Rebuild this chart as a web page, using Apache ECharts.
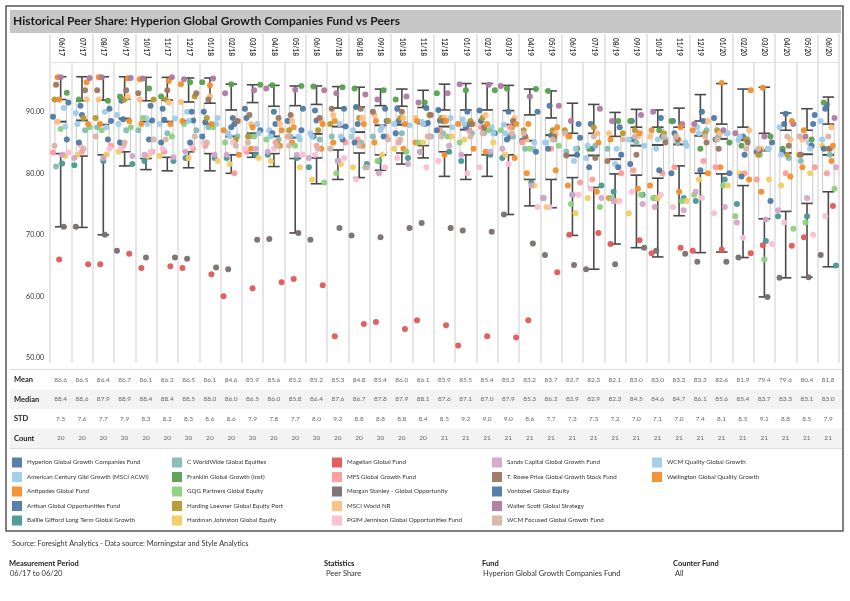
<!DOCTYPE html>
<html><head><meta charset="utf-8">
<script src="https://cdn.jsdelivr.net/npm/echarts@6/dist/echarts.min.js"></script>
<style>html,body{margin:0;padding:0;background:#fff}#c{width:850px;height:601px}</style>
</head><body><div id="c"></div>
<script>
const months = ['06/17','07/17','08/17','09/17','10/17','11/17','12/17','01/18','02/18','03/18','04/18','05/18','06/18','07/18','08/18','09/18','10/18','11/18','12/18','01/19','02/19','03/19','04/19','05/19','06/19','07/19','08/19','09/19','10/19','11/19','12/19','01/20','02/20','03/20','04/20','05/20','06/20'];
const statNames = ['Mean','Median','STD','Count'];
const meanRow = [86.6,86.5,86.4,86.7,86.1,86.2,86.5,86.1,84.6,85.9,85.6,85.2,85.2,85.3,84.8,85.4,86.0,86.1,85.9,85.5,85.4,85.3,83.2,83.7,82.7,82.3,82.1,83.0,83.0,83.3,83.3,82.6,81.9,79.4,79.6,80.4,81.8];
const medianRow = [88.4,88.6,87.9,88.9,88.4,88.4,88.5,88.0,86.0,86.5,86.0,85.8,86.4,87.6,86.7,87.8,87.9,88.1,87.6,87.1,87.0,87.9,85.3,86.2,82.9,82.9,82.3,84.5,84.6,84.7,86.1,85.6,85.4,83.7,83.3,83.1,83.0];
const stdRow = [7.5,7.6,7.7,7.9,8.3,8.2,8.3,8.6,8.6,7.9,7.8,7.7,8.0,9.2,8.8,8.8,8.8,8.4,8.5,9.2,9.0,9.0,8.6,7.7,7.3,7.3,7.2,7.0,7.1,7.0,7.4,8.1,8.5,9.1,8.8,8.5,7.9];
const countRow = [20,20,20,20,20,20,20,20,20,20,20,20,20,20,20,20,20,20,21,21,21,21,21,21,21,21,21,21,21,21,21,21,21,21,21,21,21];

const whiskerHigh = [95.7,95.7,95.7,95.7,95.6,95.6,95.5,95.5,94.5,94.4,94.3,94.2,94.2,94.1,94.0,93.7,93.7,93.5,94.5,94.6,94.6,94.3,93.7,93.4,91.4,91.2,89.9,90.4,90.3,90.6,92.8,94.6,93.7,94.0,89.8,90.5,92.4];
const boxQ3 = [92.0,91.8,91.9,92.1,91.8,91.9,91.6,91.4,90.3,91.5,90.9,91.0,91.2,90.6,90.8,91.0,90.9,90.7,90.3,90.3,90.3,90.2,89.5,89.0,86.5,86.5,86.0,87.5,87.5,87.5,88.5,88.0,87.5,86.5,87.0,87.0,88.0];
const boxQ1 = [83.2,82.8,83.0,83.5,82.4,82.6,83.5,83.2,83.0,83.3,83.2,82.4,82.5,83.8,83.3,83.0,83.3,84.5,83.5,83.0,83.0,83.0,79.0,79.0,79.3,77.7,79.9,79.7,79.2,81.2,80.0,79.9,78.0,72.6,73.8,75.1,77.0];
const whiskerLow = [71.3,71.2,70.0,81.2,80.6,80.4,80.9,80.4,80.0,82.6,81.1,70.3,78.3,79.0,79.3,80.5,81.5,82.5,79.5,79.0,79.5,73.3,74.7,74.4,69.9,64.4,68.5,67.9,66.4,73.1,67.1,67.2,66.3,59.9,63.0,63.1,64.8];

const hyperion = [89.2,89.5,88.5,88.8,88.6,88.7,88.6,88.3,88.0,89.0,88.0,88.5,88.6,87.6,88.0,88.5,88.5,88.2,88.6,88.0,88.5,86.0,85.3,86.2,85.8,84.0,83.0,85.5,86.0,86.5,88.5,85.5,83.0,83.5,89.7,89.5,91.2];
const americanCentury = [90.6,89.8,90.0,89.5,89.0,88.9,90.0,88.0,86.5,88.0,87.0,86.0,86.5,88.0,86.0,87.0,87.8,88.4,89.0,88.8,87.5,87.9,84.0,85.0,82.0,82.5,81.5,84.5,84.0,85.0,87.5,86.5,85.4,84.0,87.5,85.0,88.5];
const antipodes = [95.6,94.8,95.6,95.4,95.3,95.0,94.5,94.3,83.0,84.0,84.5,85.0,84.0,85.0,84.5,85.0,84.0,85.0,83.0,84.0,83.5,82.5,80.0,80.5,78.0,77.0,76.0,77.5,78.0,77.0,80.0,81.0,79.0,77.0,79.5,81.0,82.0];
const artisan = [91.5,91.0,90.5,91.8,91.0,90.5,90.0,90.0,89.0,90.5,90.0,90.5,90.2,90.5,90.8,90.5,90.5,90.6,90.3,90.0,90.2,90.0,90.0,91.0,88.0,88.0,87.5,88.5,89.0,88.5,90.0,89.0,86.0,85.0,88.0,88.0,90.5];
const baillieGifford = [81.6,81.3,82.0,81.5,82.0,82.0,82.5,82.5,82.5,83.0,83.0,82.5,81.0,82.0,81.5,82.0,82.5,83.5,83.5,82.0,83.0,82.5,78.5,76.0,76.5,78.0,77.0,76.5,76.0,76.0,75.5,79.0,75.0,69.0,73.0,73.0,65.0];
const cWorldWide = [81.1,87.0,87.5,87.0,87.0,86.5,87.0,87.5,86.0,86.0,85.5,86.0,85.5,86.0,85.0,86.0,86.5,86.0,86.5,86.5,86.5,86.0,84.0,85.5,83.5,84.5,84.0,85.0,85.5,85.0,87.0,86.0,85.5,83.0,82.5,82.0,83.0];
const franklin = [93.1,92.0,91.8,92.5,93.8,92.5,94.8,94.8,94.5,94.4,94.3,94.2,94.1,94.0,93.8,93.5,92.0,91.5,93.0,93.5,93.5,93.8,93.7,93.4,84.0,84.0,88.5,88.5,87.0,88.5,84.0,85.0,84.5,86.0,84.0,85.5,91.5];
const gqg = [87.2,87.5,87.0,87.5,89.0,86.0,88.0,87.5,85.0,86.0,85.5,84.5,78.5,80.0,81.0,82.0,83.5,85.0,86.0,85.0,87.0,87.0,84.0,84.5,75.0,74.5,76.0,76.5,76.0,75.5,76.5,78.0,73.0,66.0,71.0,72.0,77.5];
const hardingLoevner = [92.0,89.0,89.0,92.0,92.0,92.0,92.5,89.0,85.5,86.0,85.0,87.0,87.0,88.0,89.0,88.5,89.0,89.5,89.0,88.5,89.0,87.5,87.0,87.0,87.0,87.5,86.5,87.0,86.5,86.0,86.5,87.0,85.5,83.0,83.0,83.0,84.0];
const hardmanJohnston = [82.8,83.0,83.0,83.5,82.8,82.8,82.5,82.0,81.5,82.5,82.0,81.0,79.0,81.5,81.0,83.0,84.0,85.0,86.0,85.5,85.0,83.0,78.0,74.5,73.5,76.0,75.5,73.5,76.0,75.5,79.0,78.0,80.0,79.0,78.0,80.0,84.5];
const magellan = [66.0,65.2,65.2,66.9,64.6,64.9,64.6,63.6,60.0,61.3,62.3,62.8,61.8,53.5,55.5,55.8,54.7,56.1,55.3,52.0,53.5,53.3,56.1,63.9,70.0,70.3,68.5,69.1,67.0,67.9,67.4,67.6,67.0,68.3,68.2,69.6,74.7];
const mfs = [83.4,83.5,84.5,84.5,83.5,83.5,84.0,84.5,80.0,83.5,85.0,86.0,84.5,85.0,85.5,86.0,85.0,86.0,87.0,87.0,87.5,87.5,85.0,84.0,78.5,79.0,80.0,80.5,80.0,81.0,82.0,81.0,80.0,79.0,80.0,81.0,80.0];
const morganStanley = [71.3,71.3,70.0,67.4,66.3,66.3,66.1,64.7,64.4,69.2,69.3,70.3,69.2,71.1,69.9,69.6,71.1,71.9,71.1,70.7,70.5,73.3,68.6,66.7,65.1,64.4,65.2,67.9,67.4,66.9,65.6,65.6,66.3,59.9,63.0,63.1,66.7];
const msciWorld = [88.4,92.0,92.0,92.5,92.0,91.5,91.6,92.5,88.5,88.0,88.0,88.5,88.5,89.5,89.0,89.5,89.0,89.0,89.0,88.0,89.5,89.0,85.5,86.5,86.0,86.5,86.5,86.0,86.0,85.5,88.5,86.5,87.0,84.0,85.5,85.5,87.5];
const pgim = [83.4,84.5,84.0,84.0,83.5,84.0,84.5,85.0,85.0,84.0,84.0,83.0,83.0,82.5,79.0,81.0,82.5,81.0,82.0,80.0,81.0,81.5,74.5,74.5,76.5,77.5,75.5,77.0,76.5,74.5,76.0,73.5,69.5,68.5,72.0,70.0,73.0];
const sands = [83.0,82.5,82.5,82.8,83.0,82.6,83.5,83.0,83.0,84.0,83.5,83.0,82.5,82.0,81.0,80.0,81.5,83.5,84.5,83.0,83.5,84.0,78.0,76.0,76.5,76.0,75.5,75.0,74.5,74.0,77.0,74.5,72.0,72.5,74.0,76.0,81.0];
const tRowe = [94.4,93.5,93.5,93.5,93.0,93.5,93.0,92.0,88.5,89.5,89.0,89.5,89.0,90.5,90.5,90.0,90.0,89.5,88.5,88.0,87.5,88.5,86.0,86.0,82.9,82.5,82.0,83.0,85.0,85.5,85.0,84.0,85.0,83.7,84.5,83.0,84.0];
const vontobel = [85.5,85.0,85.5,85.0,85.5,85.0,85.0,86.0,87.5,87.0,86.5,87.0,86.0,85.5,85.0,86.0,86.5,88.0,87.0,87.5,86.5,85.5,83.5,84.0,83.0,81.0,81.0,81.5,80.5,80.0,80.5,80.0,79.5,75.5,83.5,84.5,84.0];
const walterScott = [95.6,95.5,95.6,95.5,95.4,95.6,95.3,95.4,93.0,93.5,93.8,93.6,93.5,93.0,92.8,92.0,92.5,91.5,93.0,94.5,94.4,94.2,92.5,91.0,88.5,90.5,88.5,89.5,90.0,88.0,88.0,87.0,86.5,86.0,88.0,86.0,89.0];
const wcmFocused = [84.5,84.0,86.0,85.0,85.5,85.5,86.0,85.0,84.5,85.0,84.5,84.5,84.0,84.0,84.5,85.5,85.5,86.0,86.0,86.0,86.5,86.5,86.5,85.5,86.5,86.0,85.5,86.0,86.0,86.0,86.0,85.5,84.0,84.0,86.0,86.0,86.0];
const wcmQuality = [87.6,88.0,87.5,88.0,88.0,88.0,88.5,89.0,86.0,86.5,86.0,85.5,86.0,86.0,87.0,87.5,88.0,88.0,87.5,88.0,86.5,86.5,85.0,85.0,84.0,84.5,84.0,85.5,85.5,84.5,86.5,86.5,86.0,84.0,83.0,84.0,85.5];
const wellington = [92.0,88.0,88.0,88.5,88.0,88.0,88.5,88.0,87.0,87.5,87.0,87.5,88.0,88.5,88.0,88.5,88.0,88.5,88.5,88.0,88.0,88.0,88.0,87.5,86.0,85.0,85.5,86.5,87.0,87.5,87.0,94.7,93.5,93.9,88.5,87.0,84.5];

const fundNames = ['Hyperion Global Growth Companies Fund','American Century Glbl Growth (MSCI ACWI)','Antipodes Global Fund','Artisan Global Opportunities Fund','Baillie Gifford Long Term Global Growth','C WorldWide Global Equities','Franklin Global Growth (Inst)','GQG Partners Global Equity','Harding Loevner Global Equity Port','Hardman Johnston Global Equity','Magellan Global Fund','MFS Global Growth Fund','Morgan Stanley - Global Opportunity','MSCI World NR','PGIM Jennison Global Opportunities Fund','Sands Capital Global Growth Fund','T. Rowe Price Global Growth Stock Fund','Vontobel Global Equity','Walter Scott Global Strategy','WCM Focused Global Growth Fund','WCM Quality Global Growth','Wellington Global Quality Growth'];
const fundValues = [hyperion,americanCentury,antipodes,artisan,baillieGifford,cWorldWide,franklin,gqg,hardingLoevner,hardmanJohnston,magellan,mfs,morganStanley,msciWorld,pgim,sands,tRowe,vontobel,walterScott,wcmFocused,wcmQuality,wellington];
const fundColors = ['#4e79a7','#a0cbe8','#f28e2b','#4e79a7','#499894','#86bcb6','#59a14f','#8cd17d','#b6992d','#f1ce63','#e15759','#ff9d9a','#79706e','#ffbe7d','#fabfd2','#d4a6c8','#9d7660','#4e79a7','#b07aa1','#d7b5a6','#a0cbe8','#f28e2b'];

const FONT = "Lato, 'Open Sans', sans-serif";
const chart = echarts.init(document.getElementById('c'));

function jitter(s, i) { const k = (s * 7 + i * 5) % 11; return (k / 10 - 0.5) * 0.72; }

const series = [];
series.push({
  type: 'custom', name: 'box', xAxisIndex: 1, yAxisIndex: 0, z: 1, silent: true,
  data: months.map((m, i) => [i, whiskerLow[i], boxQ1[i], medianRow[i], boxQ3[i], whiskerHigh[i]]),
  renderItem: function (params, api) {
    const x = api.value(0);
    const pLow = api.coord([x, api.value(1)]);
    const pQ1 = api.coord([x, api.value(2)]);
    const pMed = api.coord([x, api.value(3)]);
    const pQ3 = api.coord([x, api.value(4)]);
    const pHigh = api.coord([x, api.value(5)]);
    const cw = api.size([1, 0])[0];
    const hw = cw * 0.27;
    const cx = pMed[0];
    const dark = { stroke: '#4a4a4a', lineWidth: 1.6 };
    return { type: 'group', children: [
      { type: 'rect', shape: { x: cx - hw, y: pQ3[1], width: hw * 2, height: pQ1[1] - pQ3[1] }, style: { fill: 'rgba(255,255,255,0.6)', stroke: '#c9c9c9', lineWidth: 1 } },
      { type: 'line', shape: { x1: cx, y1: pHigh[1], x2: cx, y2: pQ3[1] }, style: dark },
      { type: 'line', shape: { x1: cx, y1: pQ1[1], x2: cx, y2: pLow[1] }, style: dark },
      { type: 'line', shape: { x1: cx - hw, y1: pHigh[1], x2: cx + hw, y2: pHigh[1] }, style: dark },
      { type: 'line', shape: { x1: cx - hw, y1: pLow[1], x2: cx + hw, y2: pLow[1] }, style: dark },
      { type: 'line', shape: { x1: cx - hw, y1: pQ3[1], x2: cx + hw, y2: pQ3[1] }, style: dark },
      { type: 'line', shape: { x1: cx - hw, y1: pQ1[1], x2: cx + hw, y2: pQ1[1] }, style: dark },
      { type: 'line', shape: { x1: cx - hw, y1: pMed[1], x2: cx + hw, y2: pMed[1] }, style: { stroke: '#4a4a4a', lineWidth: 2 } }
    ]};
  }
});
fundNames.forEach((name, s) => {
  series.push({
    type: 'scatter', name: name, xAxisIndex: 1, yAxisIndex: 0, z: 3,
    symbolSize: 6, itemStyle: { color: fundColors[s], opacity: 0.95 },
    data: fundValues[s].map((v, i) => v == null ? null : [i + jitter(s, i), v])
  });
});
const tableRows = [meanRow, medianRow, stdRow, countRow];
const tableData = [];
tableRows.forEach((row, r) => row.forEach((v, i) => tableData.push([i, r, v])));
series.push({
  type: 'scatter', name: 'table', xAxisIndex: 3, yAxisIndex: 2, symbolSize: 1, silent: true,
  itemStyle: { color: 'transparent' },
  label: { show: true, position: 'inside', fontSize: 6.5, color: '#444', fontFamily: FONT,
    formatter: p => p.value[1] === 3 ? String(p.value[2]) : p.value[2].toFixed(1) },
  data: tableData
});

const legendCols = [0, 5, 10, 15, 20];
const legendLeft = [12, 172, 332, 492, 652];
const legends = legendCols.map((start, k) => ({
  orient: 'vertical', left: legendLeft[k], top: 457.5, padding: 0, itemWidth: 10, itemHeight: 10, itemGap: 4.5,
  icon: 'rect', selectedMode: false,
  textStyle: { fontSize: 6.2, color: '#333', fontFamily: FONT },
  data: fundNames.slice(start, start + 5)
}));

const T = (x, y, text, opts) => Object.assign({ type: 'text', x: x, y: y, style: Object.assign({ text: text, fill: '#222', font: '7.5px ' + FONT }, opts || {}) });

chart.setOption({
  animation: false,
  backgroundColor: '#fff',
  grid: [
    { left: 50, right: 11, top: 62, height: 300.7 },
    { left: 50, right: 11, top: 34, height: 28 },
    { left: 10, right: 8, top: 370, height: 78 }
  ],
  xAxis: [
    { gridIndex: 0, type: 'category', data: months, position: 'top', boundaryGap: true,
      axisLine: { show: false }, axisTick: { show: false },
      axisLabel: { rotate: 90, margin: 6, fontSize: 6.5, fontWeight: 'bold', color: '#333', fontFamily: FONT },
      splitLine: { show: true, lineStyle: { color: '#dedede', width: 1.5 } } },
    { gridIndex: 0, type: 'value', min: -0.5, max: 36.5, show: false },
    { gridIndex: 1, type: 'category', data: months, boundaryGap: true,
      axisLine: { show: true, lineStyle: { color: '#e2e2e2', width: 1 } }, axisTick: { show: false }, axisLabel: { show: false },
      splitLine: { show: true, lineStyle: { color: '#dedede', width: 1.5 } } },
    { gridIndex: 2, type: 'value', min: -2.376, max: 36.65, show: false }
  ],
  yAxis: [
    { gridIndex: 0, type: 'value', min: 49.2, max: 98.1,
      axisLine: { show: false }, axisTick: { show: false }, splitLine: { show: false },
      axisLabel: { customValues: [50, 60, 70, 80, 90], formatter: v => v.toFixed(2), fontSize: 7, color: '#333', margin: 6, fontFamily: FONT } },
    { gridIndex: 1, type: 'value', show: false },
    { gridIndex: 2, type: 'category', data: statNames, inverse: true,
      axisLine: { show: false }, axisTick: { show: false }, splitLine: { show: false },
      splitArea: { show: true, areaStyle: { color: ['#ffffff', '#f3f3f3'] } },
      axisLabel: { inside: true, margin: 4, fontSize: 7.5, fontWeight: 'bold', color: '#222', fontFamily: FONT } }
  ],
  legend: legends,
  series: series,
  graphic: [
    { type: 'rect', shape: { x: 6, y: 6, width: 837, height: 525 }, style: { fill: 'none', stroke: '#555', lineWidth: 1.5 }, z: -1 },
    { type: 'rect', shape: { x: 10, y: 10, width: 831, height: 23 }, style: { fill: '#c6c6c6' }, z: -1 },
    T(13, 21.5, 'Historical Peer Share: Hyperion Global Growth Companies Fund vs Peers', { font: "bold 12px Lato, sans-serif", fill: '#1a1a1a', textVerticalAlign: 'middle' }),
    { type: 'line', shape: { x1: 10, y1: 369.5, x2: 842, y2: 369.5 }, style: { stroke: '#dddddd', lineWidth: 1 } },
    { type: 'line', shape: { x1: 10, y1: 448.5, x2: 842, y2: 448.5 }, style: { stroke: '#dddddd', lineWidth: 1 } },
    T(12, 540, 'Source: Foresight Analytics - Data source: Morningstar and Style Analytics', { font: '7.3px ' + FONT, fill: '#333' }),
    T(9, 560, 'Measurement Period', { font: 'bold 7.5px ' + FONT }),
    T(10, 570, '06/17 to 06/20', { font: '7.5px ' + FONT, fill: '#333' }),
    T(324, 560, 'Statistics', { font: 'bold 7.5px ' + FONT }),
    T(326, 570, 'Peer Share', { font: '7.5px ' + FONT, fill: '#333' }),
    T(482, 560, 'Fund', { font: 'bold 7.5px ' + FONT }),
    T(483, 570, 'Hyperion Global Growth Companies Fund', { font: '7.5px ' + FONT, fill: '#333' }),
    T(673, 560, 'Counter Fund', { font: 'bold 7.5px ' + FONT }),
    T(675, 570, 'All', { font: '7.5px ' + FONT, fill: '#333' })
  ]
});
</script>
</body></html>
